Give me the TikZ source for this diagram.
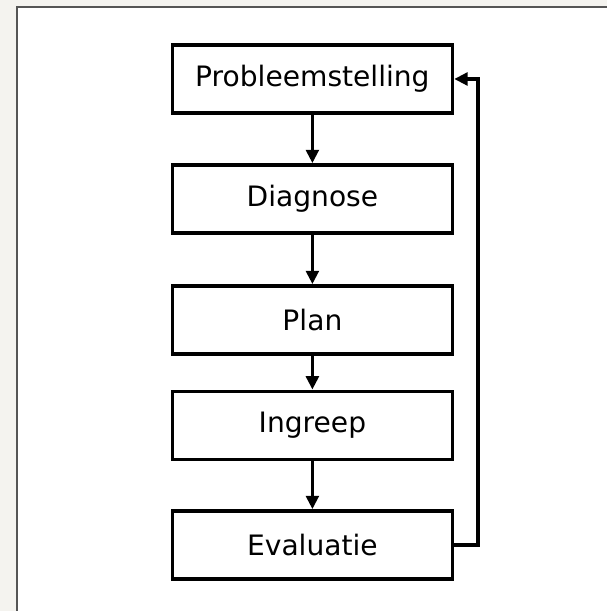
\documentclass[tikz,border=0pt]{standalone}
\usepackage{fontspec}
\setmainfont{DejaVu Sans}
\usepackage{tikz}
\usetikzlibrary{shapes,arrows.meta,positioning}
\definecolor{paper}{HTML}{F4F3EF}
\definecolor{rand}{HTML}{555555}

\begin{document}
\begin{tikzpicture}[stapstyle/.style={rectangle,draw,line width=2.6pt,fill=white,minimum width=7.0cm,minimum height=1.7cm,inner sep=0pt,font=\fontsize{20}{24}\selectfont},
pijl/.style={line width=2.6pt,-{Triangle[length=9.5pt,width=9pt]}}]
\useasboundingbox (0,0) rectangle (15.175,15.275);
\fill [paper] (0,0) rectangle (15.175,15.275);
\fill [white] (0.43,0) rectangle (15.175,15.11);
\draw [rand, line width=1.5pt] (0.43,0) |- (15.175,15.11);
       \node [stapstyle]  (1) at (7.81,13.3) {Probleemstelling};
       \node [stapstyle]  (2) at (7.81,10.3) {Diagnose};
       \node [stapstyle]  (3) at (7.81,7.275) {Plan};
       \node [stapstyle]  (4) at (7.81,4.64) {Ingreep};
       \node [stapstyle]  (5) at (7.81,1.65) {Evaluatie};
\draw [pijl] (1) -- (2) ;
\draw [pijl] (2) -- (3) ;
\draw [pijl] (3) -- (4) ;
\draw [pijl] (4) -- (5) ;
\draw [pijl] (5.east) -- ++(0.6,0) |- (1.east) ;
\end{tikzpicture}
\end{document}
